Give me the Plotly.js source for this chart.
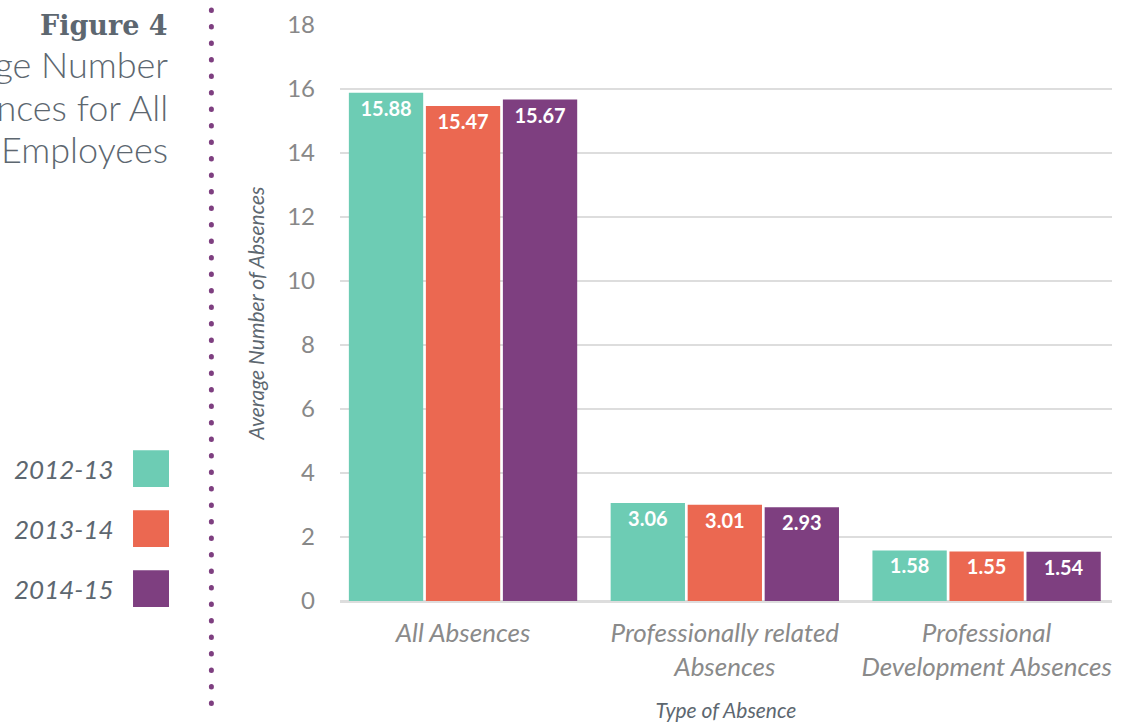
<!DOCTYPE html>
<html>
<head>
<meta charset="utf-8">
<script src="https://cdn.plot.ly/plotly-3.0.1.min.js"></script>
<style>
  html, body { margin: 0; padding: 0; background: #fff; }
  #chart { width: 1128px; height: 723px; }
  .shapelayer path { stroke-linecap: round; }
</style>
</head>
<body>
<div id="chart"></div>
<script>
// ---- data ----
const categories = ["All Absences", "Professionally related<br>Absences", "Professional<br>Development Absences"];
const seriesNames = ["2012-13", "2013-14", "2014-15"];
const values2012 = [15.88, 3.06, 1.58];
const values2013 = [15.47, 3.01, 1.55];
const values2014 = [15.67, 2.93, 1.54];
const seriesColors = ["#6dccb4", "#eb6851", "#7e3f80"];
const yTicks = [0, 2, 4, 6, 8, 10, 12, 14, 16, 18];

const allValues = [values2012, values2013, values2014];
const gray = "#5d6770";

const traces = allValues.map((vals, i) => ({
  type: "bar",
  name: seriesNames[i],
  x: categories,
  y: vals,
  marker: { color: seriesColors[i] },
  text: vals.map(v => v.toFixed(2)),
  textposition: "inside",
  insidetextanchor: "end",
  textangle: 0,
  constraintext: "none",
  textfont: { family: "Lato, sans-serif", size: 20, color: "#ffffff", weight: "bold" },
  hoverinfo: "skip",
  showlegend: false
}));

// custom legend (labels left, swatches right)
const legTop = 0.2298, legStep = 0.1041;
const legendAnnotations = seriesNames.map((n, i) => ({
  xref: "paper", yref: "paper",
  x: -0.2901, y: legTop - i * legStep,
  xanchor: "right", yanchor: "middle",
  text: "<i>" + n + "</i>",
  showarrow: false,
  font: { family: "Lato, sans-serif", size: 26, color: gray }
}));
const legendShapes = seriesNames.map((n, i) => ({
  type: "rect", xref: "paper", yref: "paper",
  x0: -0.2681, x1: -0.2215,
  y0: legTop - i * legStep - 0.032, y1: legTop - i * legStep + 0.032,
  fillcolor: seriesColors[i], line: { width: 0 }
}));

const layout = {
  width: 1128, height: 723,
  margin: { l: 340, r: 16, t: 25, b: 121.5 },
  paper_bgcolor: "#ffffff",
  plot_bgcolor: "#ffffff",
  barmode: "group",
  bargap: 0.1175,
  bargroupgap: 0.035,
  showlegend: false,
  font: { family: "Lato, sans-serif", color: "#888888" },
  xaxis: {
    type: "category",
    range: [-0.47, 2.479],
    showgrid: false,
    showline: false,
    zeroline: false,
    ticks: "",
    ticklabelstandoff: 14,
    tickfont: { family: "Lato, sans-serif", size: 26, color: "#8a8a8a", style: "italic" },
    title: {
      text: "Type of Absence",
      font: { family: "Lato, sans-serif", size: 21, color: gray, style: "italic" },
      standoff: 22
    }
  },
  yaxis: {
    range: [0, 18],
    tickvals: yTicks,
    ticktext: yTicks.map(String),
    showgrid: true,
    gridcolor: "#dddddd",
    gridwidth: 1.5,
    zeroline: true,
    zerolinecolor: "#dddddd",
    zerolinewidth: 3,
    showline: false,
    ticks: "",
    ticklabelstandoff: 24,
    tickfont: { family: "Lato, sans-serif", size: 24, color: "#888888" },
    title: {
      text: "Average Number of Absences",
      font: { family: "Lato, sans-serif", size: 21, color: gray, style: "italic" },
      standoff: 16
    }
  },
  annotations: [
    {
      xref: "paper", yref: "paper", x: -0.2202, y: 1.0,
      xanchor: "right", yanchor: "middle",
      text: "<b>Figure 4</b>", showarrow: false,
      font: { family: "DejaVu Serif, serif", size: 27, color: gray }
    },
    {
      xref: "paper", yref: "paper", x: -0.2202, y: 0.932,
      xanchor: "right", yanchor: "middle",
      text: "Average Number", showarrow: false,
      font: { family: "Lato, sans-serif", size: 36, color: gray, weight: 300 }
    },
    {
      xref: "paper", yref: "paper", x: -0.2202, y: 0.858,
      xanchor: "right", yanchor: "middle",
      text: "of Absences for All", showarrow: false,
      font: { family: "Lato, sans-serif", size: 36, color: gray, weight: 300 }
    },
    {
      xref: "paper", yref: "paper", x: -0.2202, y: 0.785,
      xanchor: "right", yanchor: "middle",
      text: "Employees", showarrow: false,
      font: { family: "Lato, sans-serif", size: 36, color: gray, weight: 300 }
    }
  ].concat(legendAnnotations),
  shapes: [
    {
      type: "line", xref: "paper", yref: "paper",
      x0: -0.1666, x1: -0.1666, y0: 1.026, y1: -0.185,
      line: { color: "#7e3f80", width: 5, dash: "0.5px,16px" }
    }
  ].concat(legendShapes)
};

Plotly.newPlot("chart", traces, layout, { displayModeBar: false, staticPlot: true });
</script>
</body>
</html>
